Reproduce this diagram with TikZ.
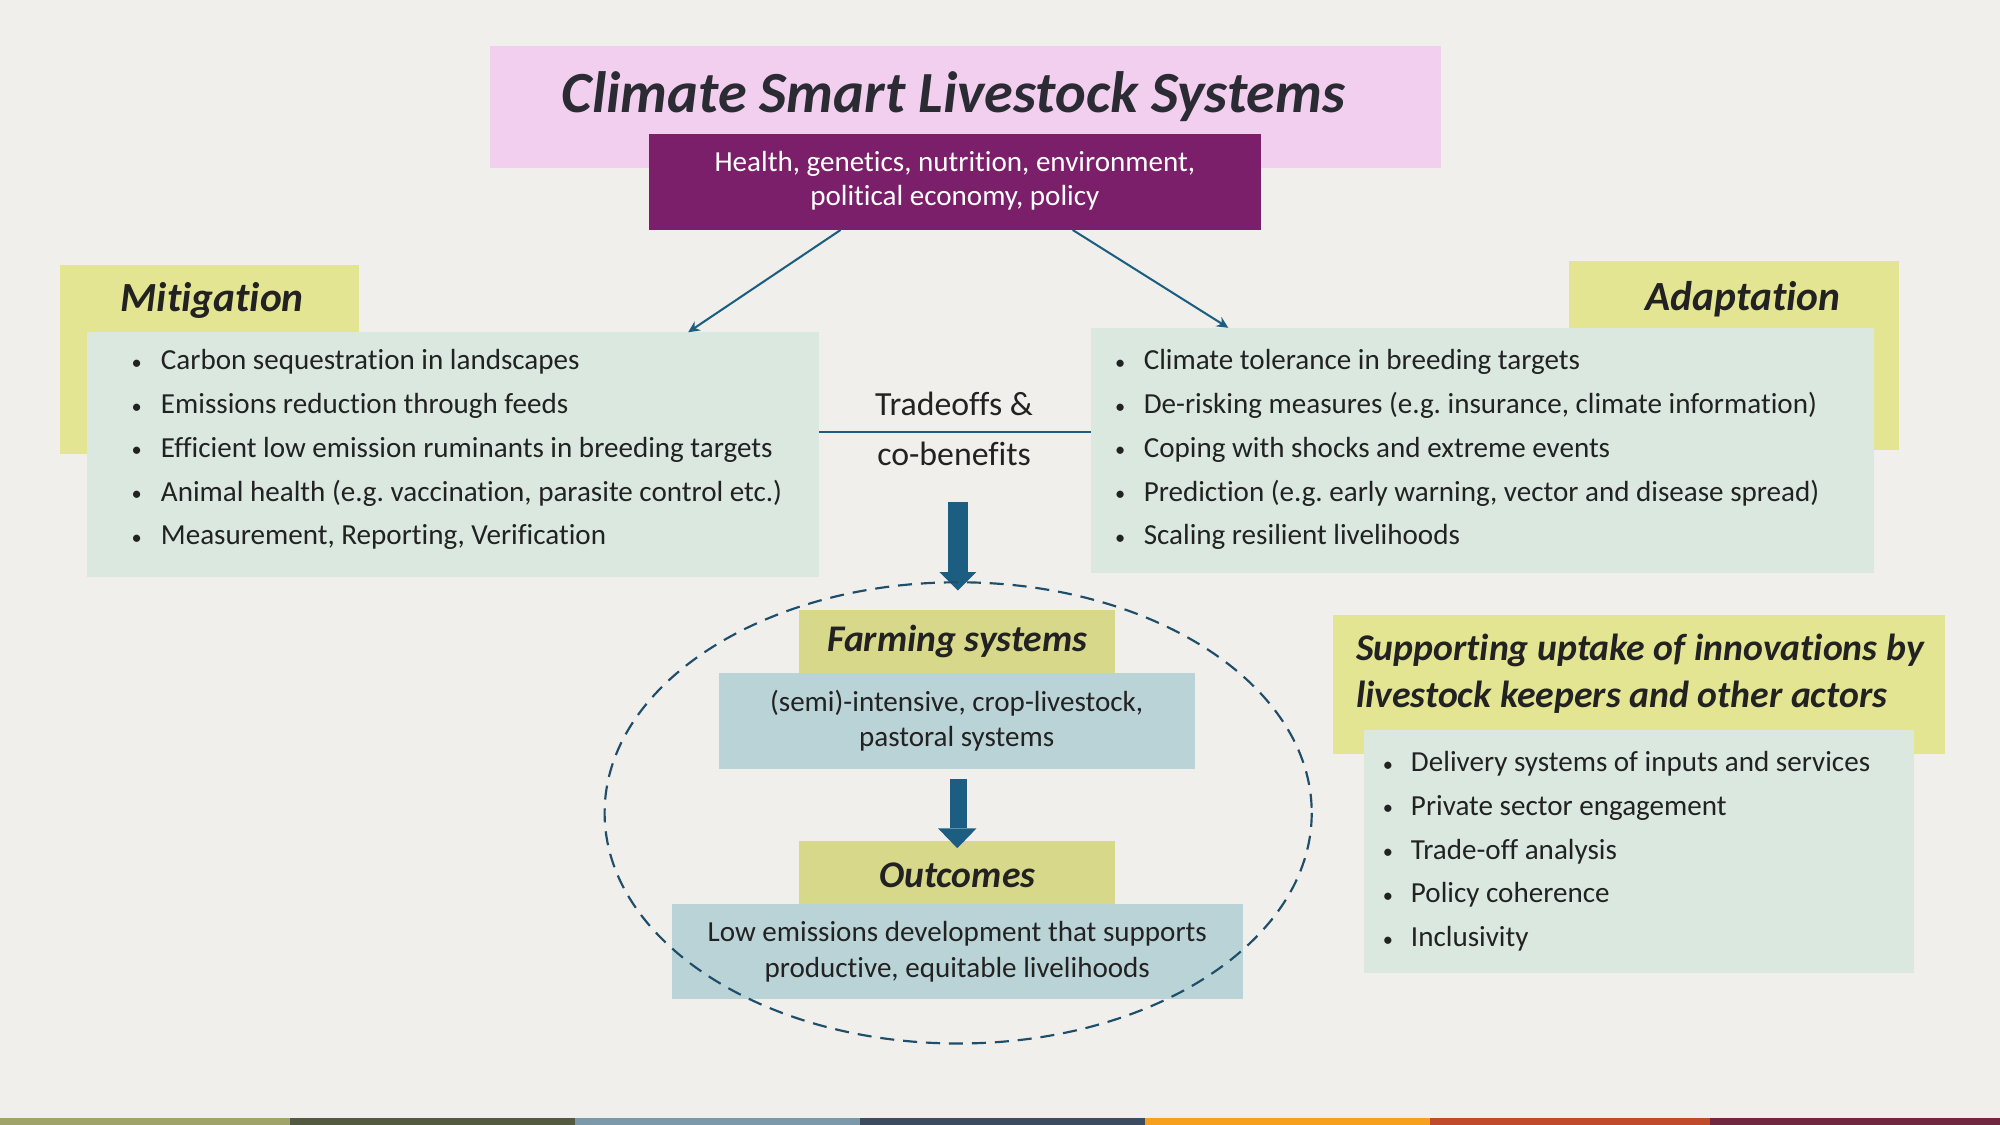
\documentclass[tikz,border=0pt]{standalone}
\usepackage{fontspec}
\setmainfont{Carlito}[Ligatures=NoCommon]
\usetikzlibrary{calc,arrows.meta}
\definecolor{bg}{HTML}{F0EFEB}
\definecolor{pinkbox}{HTML}{F2CFEE}
\definecolor{purplebox}{HTML}{7B1F6B}
\definecolor{labA}{HTML}{E3E592}
\definecolor{labB}{HTML}{D8D88A}
\definecolor{greenbox}{HTML}{DAE8E0}
\definecolor{bluebox}{HTML}{BAD3D6}
\definecolor{arrowblue}{HTML}{1B5E82}
\definecolor{ellblue}{HTML}{1E4E6A}
\definecolor{txt}{HTML}{222222}
\definecolor{titletxt}{HTML}{2B2B33}
\definecolor{barA}{HTML}{A0A46A}
\definecolor{barB}{HTML}{545A40}
\definecolor{barC}{HTML}{7B99AB}
\definecolor{barD}{HTML}{3D4B60}
\definecolor{barE}{HTML}{F7A01E}
\definecolor{barF}{HTML}{C04A2C}
\definecolor{barG}{HTML}{702840}
\newcommand\bulletmark[1]{\llap{\makebox[0pt][c]{\fontsize{16}{18}\selectfont\raisebox{0.5pt}{•}}\hspace{#1}}}
\begin{document}
\frenchspacing
\begin{tikzpicture}[x=1pt,y=-1pt,
  boxy/.style={draw=none,inner sep=0pt,outer sep=0pt,anchor=north west},
  bul/.style={anchor=base west,inner sep=0pt,text=txt,font=\fontsize{22.8}{27}\selectfont},
  plain/.style={anchor=base,inner sep=0pt,text=txt,font=\fontsize{22.8}{27}\selectfont},
  head/.style={inner sep=0pt,text=txt,font=\fontsize{32.5}{38}\selectfont\bfseries\itshape},
  thin/.style={draw=arrowblue,line width=1.6pt,-{Stealth[length=9pt,width=8.5pt]}}]
\useasboundingbox (0,0) rectangle (1568,882);
\fill[bg] (0,0) rectangle (1568,882);
% bottom bar
\fill[barA] (0,876.5) rectangle (227,882);
\fill[barB] (227,876.5) rectangle (451,882);
\fill[barC] (451,876.5) rectangle (674,882);
\fill[barD] (674,876.5) rectangle (898,882);
\fill[barE] (898,876.5) rectangle (1121,882);
\fill[barF] (1121,876.5) rectangle (1341,882);
\fill[barG] (1341,876.5) rectangle (1568,882);

% title
\node[boxy,fill=pinkbox,minimum width=745.4pt,minimum height=95.5pt] (titlebox) at (384,36) {};
\node[anchor=base,inner sep=0pt,text=titletxt,font=\fontsize{45.7}{52}\selectfont\bfseries\itshape] (title) at (747.5,88.4) {Climate Smart Livestock Systems};
\node[boxy,fill=purplebox,minimum width=480.1pt,minimum height=75.3pt] (focus) at (508.6,105) {};
\node[plain,text=white] (f1) at (748.6,134.5) {Health, genetics, nutrition, environment,};
\node[plain,text=white] (f2) at (748.6,161.5) {political economy, policy};

% mitigation
\node[boxy,fill=labA,minimum width=234.5pt,minimum height=148.2pt] (mitlab) at (47,207.8) {};
\node[head,anchor=base west] (mittitle) at (94.4,244.5) {Mitigation};
\node[boxy,fill=greenbox,minimum width=573.9pt,minimum height=191.7pt] (mitbox) at (68.4,260.5) {};
\foreach \t [count=\i] in {{Carbon sequestration in landscapes},{Emissions reduction through feeds},{Efficient low emission ruminants in breeding targets},{Animal health (e.g. vaccination, parasite control etc.)},{Measurement, Reporting, Verification}}
  \node[bul] (m\i) at (126,{290+34.3*(\i-1)}) {\bulletmark{19pt}\t};

% adaptation
\node[boxy,fill=labA,minimum width=259pt,minimum height=148.2pt] (adlab) at (1230,204.6) {};
\node[head,anchor=base west] (adtitle) at (1290,243.8) {Adaptation};
\node[boxy,fill=greenbox,minimum width=614pt,minimum height=192pt] (adbox) at (855,257) {};
\foreach \t [count=\i] in {{Climate tolerance in breeding targets},{De-risking measures (e.g. insurance, climate information)},{Coping with shocks and extreme events},{Prediction (e.g. early warning, vector and disease spread)},{Scaling resilient livelihoods}}
  \node[bul] (a\i) at (896.5,{290+34.3*(\i-1)}) {\bulletmark{18.5pt}\t};

% tradeoffs
\node[plain,font=\fontsize{26.5}{30}\selectfont] (tr1) at (748,326) {Tradeoffs \&};
\node[plain,font=\fontsize{26.5}{30}\selectfont] (tr2) at (748,365) {co-benefits};
\coordinate (tl) at (748,338.5);
\draw[arrowblue,line width=1.8pt] (mitbox.east |- tl) -- (adbox.west |- tl);

% thin arrows
\draw[thin] ($(focus.south west)+(150.4,0)$) -- ($(mitbox.north east)+(-102.8,0)$);
\draw[thin] ($(focus.south west)+(332.4,0)$) -- ($(adbox.north west)+(108,0)$);

% farming systems
\node[boxy,fill=labB,minimum width=247.5pt,minimum height=49.6pt] (farmlab) at (626.5,478) {};
\node[head,anchor=base,font=\fontsize{29.5}{34}\selectfont\bfseries\itshape] (farmtitle) at (750.5,511) {Farming systems};
\node[boxy,fill=bluebox,minimum width=373pt,minimum height=75.4pt] (farmbox) at (564,527.6) {};
\node[plain] (fa1) at (750,557.5) {(semi)-intensive, crop-livestock,};
\node[plain] (fa2) at (750,585) {pastoral systems};

% outcomes
\node[boxy,fill=labB,minimum width=247.5pt,minimum height=49.5pt] (outlab) at (626.5,659.5) {};
\node[head,anchor=base,font=\fontsize{29.5}{34}\selectfont\bfseries\itshape] (outtitle) at (750.5,695.5) {Outcomes};
\node[boxy,fill=bluebox,minimum width=447.5pt,minimum height=74.5pt] (outbox) at (527,709) {};
\node[plain] (o1) at (750.5,738.5) {Low emissions development that supports};
\node[plain] (o2) at (750.5,766) {productive, equitable livelihoods};

% thick arrows
\coordinate (a1s) at (751,393.5);
\coordinate (a1e) at (751,463);
\draw[arrowblue,line width=16pt] (a1s) -- ($(a1e)+(0,-14.5)$);
\fill[arrowblue] (a1e) -- ++(-14.5,-14.5) -- ++(29,0) -- cycle;
\coordinate (a2e) at (750.5,665);
\draw[arrowblue,line width=13.5pt] ($(farmbox.south)+(1,8)$) -- ($(a2e)+(1,-15.5)$);
\fill[arrowblue] (a2e) -- ++(-15,-15.5) -- ++(30,0) -- cycle;

% ellipse
\draw[ellblue,line width=1.7pt,dash pattern=on 11pt off 7pt] (751.2,637.3) ellipse [x radius=277.2, y radius=180.8];

% supporting
\node[boxy,fill=labA,minimum width=479.5pt,minimum height=109pt] (suplab) at (1045,482) {};
\node[head,anchor=base west,font=\fontsize{29.6}{34}\selectfont\bfseries\itshape] (sup1) at (1063,518) {Supporting uptake of innovations by};
\node[head,anchor=base west,font=\fontsize{29.6}{34}\selectfont\bfseries\itshape] (sup2) at (1063,555) {livestock keepers and other actors};
\node[boxy,fill=greenbox,minimum width=431pt,minimum height=191pt] (supbox) at (1069.5,572) {};
\foreach \t [count=\i] in {{Delivery systems of inputs and services},{Private sector engagement},{Trade-off analysis},{Policy coherence},{Inclusivity}}
  \node[bul] (s\i) at (1106,{605+34.3*(\i-1)}) {\bulletmark{18pt}\t};
\end{tikzpicture}
\end{document}
